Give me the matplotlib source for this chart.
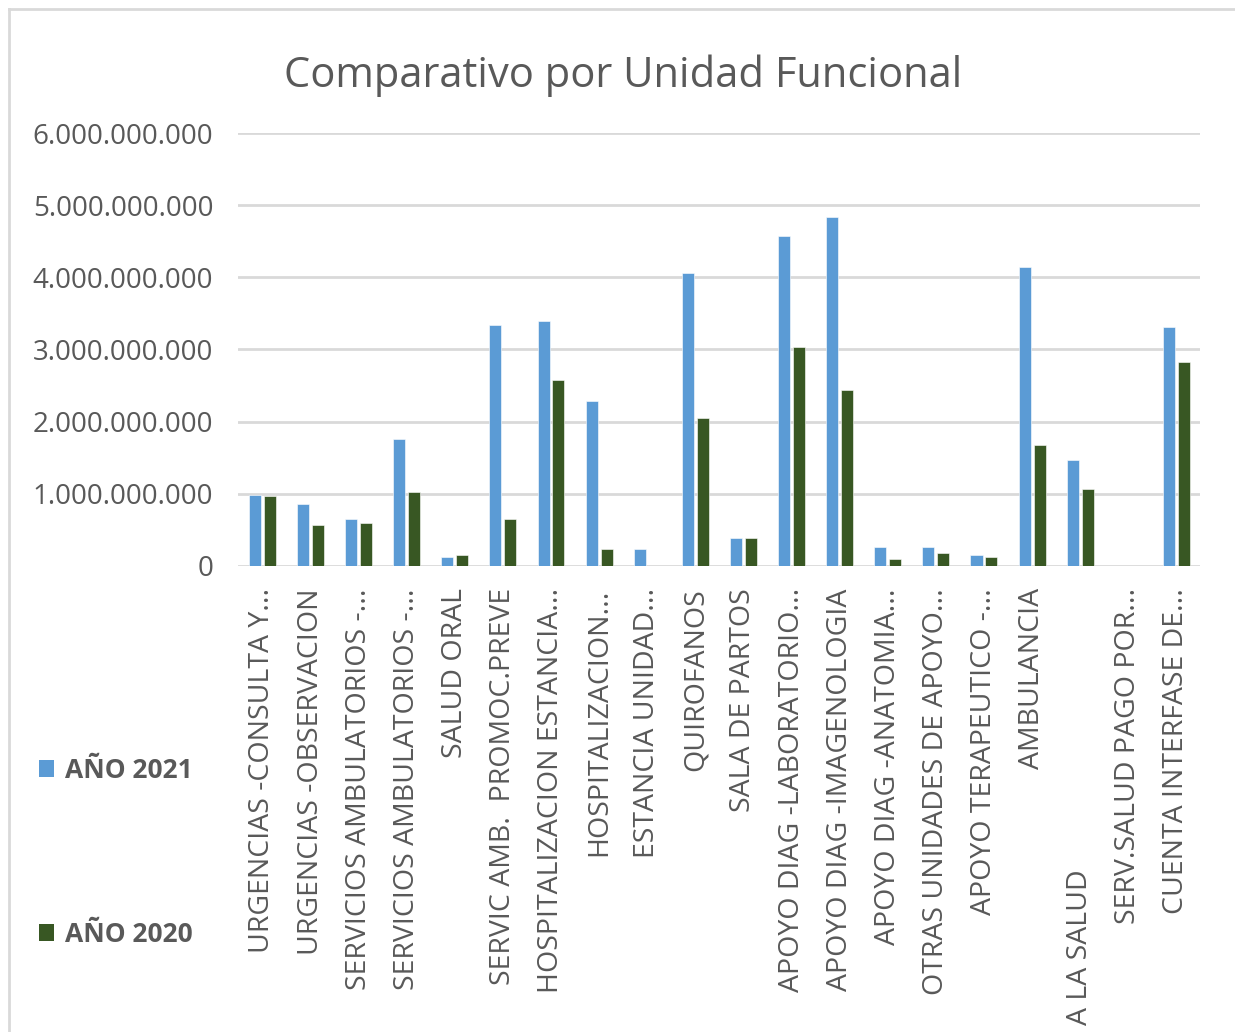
import numpy as np
import matplotlib.pyplot as plt
from matplotlib.lines import Line2D
from matplotlib.patches import Patch
from matplotlib.ticker import FuncFormatter
import matplotlib.transforms as mtransforms

plt.rcParams['font.family'] = ['Open Sans', 'DejaVu Sans']

# Data
categories = [
    "URGENCIAS -CONSULTA Y...", "URGENCIAS -OBSERVACION", "SERVICIOS AMBULATORIOS -...",
    "SERVICIOS AMBULATORIOS -...", "SALUD ORAL", "SERVIC AMB.  PROMOC.PREVE",
    "HOSPITALIZACION ESTANCIA...", "HOSPITALIZACION...", "ESTANCIA UNIDAD...",
    "QUIROFANOS", "SALA DE PARTOS", "APOYO DIAG -LABORATORIO...",
    "APOYO DIAG -IMAGENOLOGIA", "APOYO DIAG -ANATOMIA...", "OTRAS UNIDADES DE APOYO...",
    "APOYO TERAPEUTICO -...", "AMBULANCIA", "A LA SALUD",
    "SERV.SALUD PAGO POR...", "CUENTA INTERFASE DE...",
]
anio_2021 = [0.99e9, 0.86e9, 0.65e9, 1.76e9, 0.13e9, 3.34e9, 3.40e9, 2.28e9, 0.23e9, 4.06e9,
             0.39e9, 4.57e9, 4.83e9, 0.26e9, 0.26e9, 0.15e9, 4.14e9, 1.47e9, 0.0, 3.31e9]
anio_2020 = [0.97e9, 0.57e9, 0.60e9, 1.02e9, 0.15e9, 0.65e9, 2.58e9, 0.23e9, 0.0, 2.05e9,
             0.39e9, 3.04e9, 2.44e9, 0.10e9, 0.18e9, 0.13e9, 1.68e9, 1.07e9, 0.0, 2.83e9]
yticks = [0, 1e9, 2e9, 3e9, 4e9, 5e9, 6e9]

blue = '#5B9BD5'
green = '#385723'
text_gray = '#595959'

fig = plt.figure(figsize=(12.35, 10.32), dpi=100)
ax = fig.add_axes([0.193, 0.4516, 0.779, 0.4195])

x = np.arange(len(categories))
w = 0.25
ax.bar(x - 0.155, anio_2021, w, color=blue, edgecolor='white', linewidth=0.4, zorder=3)
ax.bar(x + 0.155, anio_2020, w, color=green, edgecolor='white', linewidth=0.4, zorder=3)

ax.set_xlim(-0.5, len(categories) - 0.5)
ax.set_ylim(0, 6e9)
ax.set_yticks(yticks)
ax.yaxis.set_major_formatter(FuncFormatter(
    lambda v, p: "0" if v == 0 else f"{int(v):,}".replace(",", ".")))
ax.grid(axis='y', color='#d9d9d9', linewidth=2, zorder=0)
ax.tick_params(axis='y', length=0, pad=18, labelsize=20, labelcolor=text_gray)
ax.tick_params(axis='x', length=0, pad=16, labelsize=20.5, labelcolor=text_gray)
for s in ax.spines.values():
    s.set_visible(False)

ax.set_xticks(x)
labels = list(categories)
labels[17] = ""
ax.set_xticklabels(labels, rotation=90, va='top', ha='center')

# the "A LA SALUD" label sits at the bottom of the figure
trans = mtransforms.blended_transform_factory(ax.transData, fig.transFigure)
ax.text(17, 1 - 1025 / 1032, categories[17], transform=trans, rotation=90,
        ha='center', va='bottom', fontsize=20.5, color=text_gray)

fig.text(623 / 1235, 1 - 76 / 1032, "Comparativo por Unidad Funcional",
         fontsize=30, color=text_gray, ha='center', va='center')

handles = [Patch(facecolor=blue), Patch(facecolor=green)]
leg = fig.legend(handles, ["AÑO 2021", "AÑO 2020"], loc='upper left',
                 bbox_to_anchor=(0.012, 1 - 733 / 1032), frameon=False,
                 prop={'weight': 'bold', 'size': 19}, labelspacing=5.2,
                 handlelength=0.6, handleheight=0.6, handletextpad=0.4, labelcolor=text_gray)

# light chart border (top and left)
fig.add_artist(Line2D([9 / 1235, 1], [1 - 9 / 1032, 1 - 9 / 1032],
                      transform=fig.transFigure, color='#d9d9d9', linewidth=2))
fig.add_artist(Line2D([9 / 1235, 9 / 1235], [0, 1 - 9 / 1032],
                      transform=fig.transFigure, color='#d9d9d9', linewidth=2))

fig.savefig("out.png", dpi=100, facecolor='white')
